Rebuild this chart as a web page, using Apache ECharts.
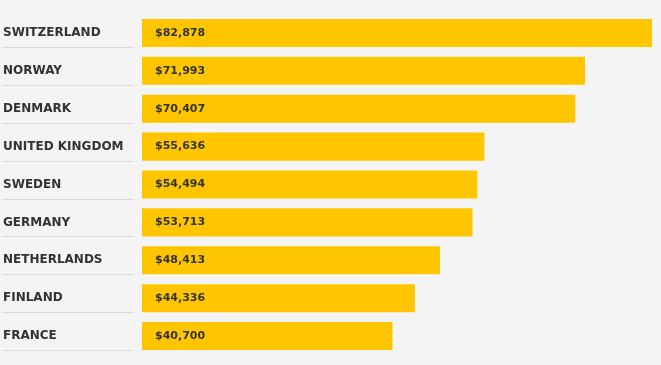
<!DOCTYPE html>
<html><head><meta charset="utf-8">
<style>html,body{margin:0;padding:0;background:#f4f4f4;}#c{width:661px;height:365px;}</style>
<script src="https://cdn.jsdelivr.net/npm/echarts@6/dist/echarts.min.js"></script>
</head><body><div id="c"></div>
<script>
const countries = ["SWITZERLAND","NORWAY","DENMARK","UNITED KINGDOM","SWEDEN","GERMANY","NETHERLANDS","FINLAND","FRANCE"];
const values = [82878,71993,70407,55636,54494,53713,48413,44336,40700];

const chart = echarts.init(document.getElementById('c'), null, {renderer:'canvas'});
const font = '"DejaVu Sans", sans-serif';
chart.setOption({
  backgroundColor:'#f4f4f4',
  animation:false,
  grid:{left:141, right:9, top:14, bottom:10},
  xAxis:{type:'value', min:0, max:82878, show:false},
  yAxis:{type:'category', data:countries, inverse:true,
    axisLine:{show:false}, axisTick:{show:false}, splitLine:{show:false},
    axisLabel:{align:'left', margin:139, color:'#333', fontFamily:font, fontWeight:'bold', fontSize:12, padding:[4,0,0,0]}
  },
  series:[
    {type:'bar', data:values, barCategoryGap:'26%',
      itemStyle:{color:'#ffc600'},
      label:{show:true, position:'insideLeft', distance:13, color:'#333', fontFamily:font, fontWeight:'bold', fontSize:11, padding:[2,0,0,0],
        formatter:p=>'$'+p.value.toLocaleString('en-US')}
    },
    {type:'custom', data:values.map((v,i)=>[0,i]), silent:true, z:1,
      renderItem:function(params, api){
        const c = api.coord([0, api.value(1)]);
        const band = api.size([0,1])[1];
        const y = Math.round(c[1] + band*0.74/2) + 0.5;
        return {type:'line', shape:{x1:2, y1:y, x2:134, y2:y}, style:{stroke:'#dcdcdc', lineWidth:1}};
      }
    }
  ]
});
</script></body></html>
